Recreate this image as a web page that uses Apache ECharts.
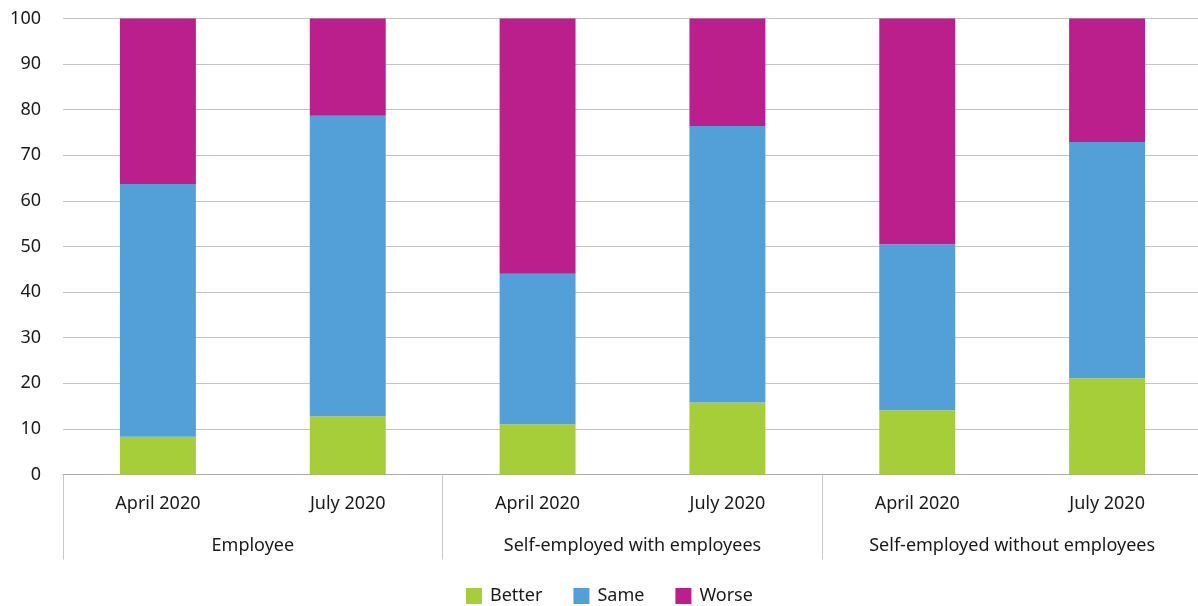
<!DOCTYPE html>
<html>
<head>
<meta charset="utf-8">
<script src="https://cdn.jsdelivr.net/npm/echarts@6/dist/echarts.min.js"></script>
<style>html,body{margin:0;padding:0;background:#fff}#c{width:1198px;height:606px}</style>
</head>
<body>
<div id="c"></div>
<script>
const periods = ['April 2020','July 2020','April 2020','July 2020','April 2020','July 2020'];
const groups = ['Employee','Self-employed with employees','Self-employed without employees'];
const better = [8.3, 12.8, 11.0, 15.8, 14.1, 21.1];
const same = [55.4, 65.9, 33.0, 60.6, 36.4, 51.8];
const worse = [36.3, 21.3, 56.0, 23.6, 49.5, 27.1];
const yTicks = [0, 100, 10];

const font = 'Noto Sans';
const chart = echarts.init(document.getElementById('c'));
chart.setOption({
  animation: false,
  textStyle: {fontFamily: font},
  grid: {left: 63, width: 1139, top: 18.5, bottom: 131.5, containLabel: false, outerBoundsMode: 'none'},
  legend: {
    bottom: -4, left: 461, itemWidth: 16, itemHeight: 16, itemGap: 31,
    icon: 'rect',
    textStyle: {fontSize: 18, color: '#1a1a1a', fontFamily: font, padding: [0, 0, 0, 3]},
    data: ['Better','Same','Worse']
  },
  xAxis: [
    {
      type: 'category', data: periods, position: 'bottom',
      axisLine: {show: true, lineStyle: {color: '#aaaaaa', width: 1}},
      axisTick: {show: false},
      axisLabel: {margin: 20, fontSize: 18, color: '#1a1a1a', fontFamily: font, interval: 0}
    },
    {
      type: 'category', data: groups, position: 'bottom',
      axisLine: {show: false},
      axisTick: {show: true, length: 85, interval: 0, lineStyle: {color: '#c8c8c8', width: 1}},
      axisLabel: {margin: 62, fontSize: 18, color: '#1a1a1a', fontFamily: font, interval: 0},
      splitLine: {show: false}
    }
  ],
  yAxis: {
    type: 'value', min: yTicks[0], max: yTicks[1], interval: yTicks[2],
    axisLine: {show: false}, axisTick: {show: false},
    axisLabel: {margin: 22, fontSize: 18, color: '#1a1a1a', fontFamily: font},
    splitLine: {lineStyle: {color: '#c4c4c4', width: 1}}
  },
  series: [
    {name: 'Better', type: 'bar', stack: 'a', data: better, barWidth: '40%', itemStyle: {color: '#a6ce39'}},
    {name: 'Same', type: 'bar', stack: 'a', data: same, barWidth: '40%', itemStyle: {color: '#539fd7'}},
    {name: 'Worse', type: 'bar', stack: 'a', data: worse, barWidth: '40%', itemStyle: {color: '#bb1f8b'}}
  ]
});
</script>
</body>
</html>
